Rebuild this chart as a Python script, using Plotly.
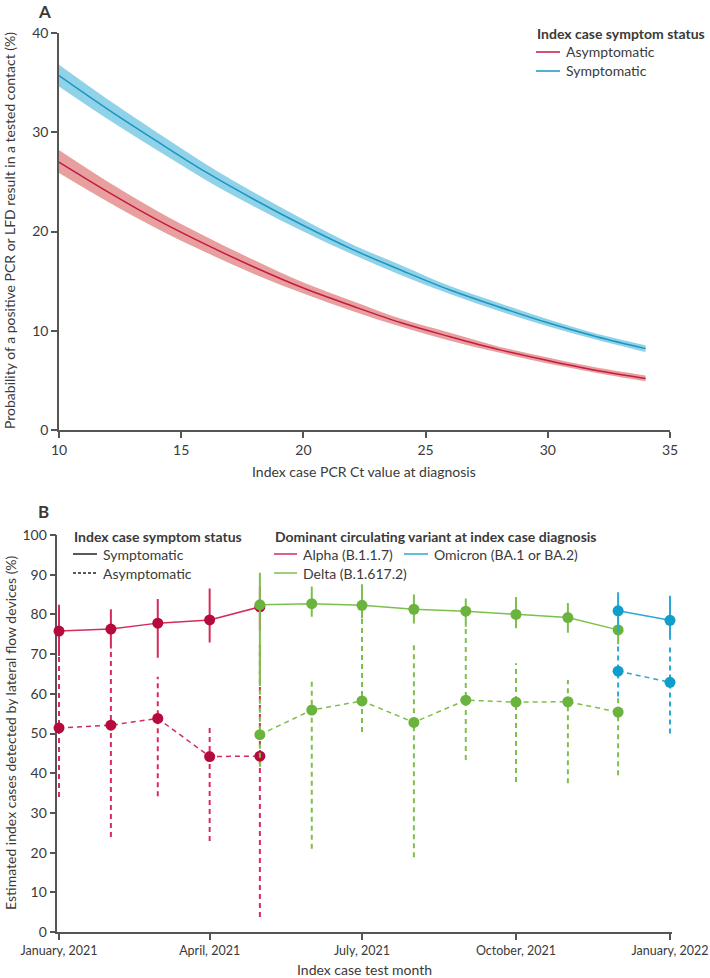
import plotly.graph_objects as go

# ---------------- Panel A data ----------------
ct_values = [10, 12, 14, 16, 18, 20, 22, 24, 26, 28, 30, 32, 34]
asym_prob = [27.0, 24.0, 21.2, 18.7, 16.4, 14.3, 12.5, 10.8, 9.4, 8.1, 7.0, 6.0, 5.2]
asym_lo = [25.9, 23.0, 20.3, 17.9, 15.7, 13.75, 12.0, 10.4, 9.0, 7.8, 6.7, 5.75, 4.9]
asym_hi = [28.2, 25.0, 22.1, 19.5, 17.1, 14.85, 13.0, 11.2, 9.8, 8.4, 7.3, 6.3, 5.5]
sym_prob = [35.7, 32.3, 29.1, 26.0, 23.2, 20.6, 18.2, 16.1, 14.1, 12.4, 10.8, 9.4, 8.2]
sym_lo = [34.6, 31.3, 28.2, 25.2, 22.5, 20.0, 17.7, 15.6, 13.7, 12.0, 10.45, 9.1, 7.85]
sym_hi = [36.8, 33.3, 30.0, 26.8, 23.9, 21.2, 18.7, 16.6, 14.5, 12.8, 11.15, 9.7, 8.55]
a_xticks = [10, 15, 20, 25, 30, 35]
a_yticks = [0, 10, 20, 30, 40]

# ---------------- Panel B data ----------------
alpha_months = ["2021-01-01", "2021-02-01", "2021-03-01", "2021-04-01", "2021-05-01"]
alpha_sym = [75.8, 76.3, 77.8, 78.6, 81.9]
alpha_sym_lo = [69.5, 71.4, 69.1, 72.9, 76.0]
alpha_sym_hi = [82.4, 81.3, 83.9, 86.5, 87.0]
alpha_asym = [51.4, 52.1, 53.8, 44.2, 44.3]
alpha_asym_lo = [34.0, 23.9, 34.2, 22.9, 3.8]
alpha_asym_hi = [70.0, 71.4, 64.3, 52.4, 72.3]

delta_months = ["2021-05-01", "2021-06-01", "2021-07-01", "2021-08-01",
                "2021-09-01", "2021-10-01", "2021-11-01", "2021-12-01"]
delta_sym = [82.4, 82.7, 82.3, 81.3, 80.8, 80.0, 79.2, 76.1]
delta_sym_lo = [62.0, 79.4, 79.0, 77.7, 76.9, 76.5, 75.4, 72.5]
delta_sym_hi = [90.5, 87.0, 87.6, 85.0, 84.0, 84.4, 82.9, 79.5]
delta_asym = [49.7, 55.9, 58.2, 52.8, 58.4, 57.9, 58.0, 55.4]
delta_asym_lo = [41.6, 21.0, 50.4, 18.8, 43.3, 37.8, 37.5, 39.5]
delta_asym_hi = [72.0, 63.4, 79.0, 72.3, 76.5, 67.7, 63.5, 60.0]

omicron_months = ["2021-12-01", "2022-01-01"]
omicron_sym = [80.9, 78.5]
omicron_sym_lo = [75.5, 73.6]
omicron_sym_hi = [85.6, 84.7]
omicron_asym = [65.7, 62.9]
omicron_asym_lo = [59.3, 50.0]
omicron_asym_hi = [72.7, 71.7]

b_xtickvals = ["2021-01-01", "2021-04-01", "2021-07-01", "2021-10-01", "2022-01-01"]
b_xticktext = ["January, 2021", "April, 2021", "July, 2021", "October, 2021", "January, 2022"]
b_yticks = [0, 10, 20, 30, 40, 50, 60, 70, 80, 90, 100]

# ---------------- styling ----------------
FONT = "Lato"
TXT = "#3a3a3a"
AXC = "#555555"
W, H = 710, 978

RED_LINE, RED_BAND = "#c41a44", "#e8a09e"
BLUE_LINE, BLUE_BAND = "#1c95c2", "#90d2e8"
ALPHA_M, ALPHA_L = "#b50a3c", "#d62b5b"
DELTA_M, DELTA_L = "#6ab33c", "#7cc04c"
OMI_M, OMI_L = "#0f9dc9", "#2aa9d4"

DASH = "5px,4px"

fig = go.Figure()

# ---- Panel A bands + lines ----
for lo, hi, mid, band, line in [(asym_lo, asym_hi, asym_prob, RED_BAND, RED_LINE),
                                (sym_lo, sym_hi, sym_prob, BLUE_BAND, BLUE_LINE)]:
    fig.add_trace(go.Scatter(x=ct_values, y=lo, mode="lines", line=dict(width=0, shape="spline"),
                             showlegend=False, hoverinfo="skip", xaxis="x", yaxis="y"))
    fig.add_trace(go.Scatter(x=ct_values, y=hi, mode="lines", line=dict(width=0, shape="spline"),
                             fill="tonexty", fillcolor=band, showlegend=False, hoverinfo="skip",
                             xaxis="x", yaxis="y"))
    fig.add_trace(go.Scatter(x=ct_values, y=mid, mode="lines", line=dict(width=1.5, color=line, shape="spline"),
                             showlegend=False, xaxis="x", yaxis="y"))


def err_xy(months, lo, hi):
    xs, ys = [], []
    for m, l, h in zip(months, lo, hi):
        xs += [m, m, None]
        ys += [l, h, None]
    return xs, ys


def add_variant(months, sym, slo, shi, asym, alo, ahi, mcol, lcol):
    ex, ey = err_xy(months, alo, ahi)
    fig.add_trace(go.Scatter(x=ex, y=ey, mode="lines", line=dict(color=lcol, width=2, dash=DASH),
                             showlegend=False, hoverinfo="skip", xaxis="x2", yaxis="y2", cliponaxis=False))
    ex, ey = err_xy(months, slo, shi)
    fig.add_trace(go.Scatter(x=ex, y=ey, mode="lines", line=dict(color=lcol, width=2),
                             showlegend=False, hoverinfo="skip", xaxis="x2", yaxis="y2", cliponaxis=False))
    fig.add_trace(go.Scatter(x=months, y=asym, mode="lines+markers",
                             line=dict(color=lcol, width=1.5, dash=DASH),
                             marker=dict(color=mcol, size=11, line=dict(width=0)),
                             showlegend=False, xaxis="x2", yaxis="y2", cliponaxis=False))
    fig.add_trace(go.Scatter(x=months, y=sym, mode="lines+markers",
                             line=dict(color=lcol, width=1.5),
                             marker=dict(color=mcol, size=11, line=dict(width=0)),
                             showlegend=False, xaxis="x2", yaxis="y2", cliponaxis=False))


add_variant(alpha_months, alpha_sym, alpha_sym_lo, alpha_sym_hi,
            alpha_asym, alpha_asym_lo, alpha_asym_hi, ALPHA_M, ALPHA_L)
add_variant(delta_months, delta_sym, delta_sym_lo, delta_sym_hi,
            delta_asym, delta_asym_lo, delta_asym_hi, DELTA_M, DELTA_L)
add_variant(omicron_months, omicron_sym, omicron_sym_lo, omicron_sym_hi,
            omicron_asym, omicron_asym_lo, omicron_asym_hi, OMI_M, OMI_L)


def px(x):
    return x / W


def py(y):
    return 1 - y / H


def axis_style(size=14, layer="above traces"):
    return dict(showline=True, linecolor=AXC, linewidth=1.5, ticks="outside", ticklen=6,
                tickcolor=AXC, tickwidth=1.5, showgrid=False, zeroline=False, automargin=False,
                ticklabeloverflow="allow", layer=layer,
                tickfont=dict(family=FONT, size=size, color=TXT))


# panel B x axis padded by one day each side (1.67 px) so edge error bars are not clipped
DAYPX = 611 / 365.0

fig.update_layout(
    template="none",
    width=W, height=H,
    margin=dict(l=0, r=0, t=0, b=0, pad=0, autoexpand=False),
    paper_bgcolor="white", plot_bgcolor="white",
    font=dict(family=FONT, size=14, color=TXT),
    showlegend=False,
    xaxis=dict(domain=[px(59), px(670)], range=[10, 35], tickvals=a_xticks, anchor="y", **axis_style()),
    yaxis=dict(domain=[py(430), py(33)], range=[0, 40], tickvals=a_yticks, anchor="x", **axis_style()),
    xaxis2=dict(domain=[px(59 - DAYPX), px(670 + DAYPX)], type="date",
                range=["2020-12-31", "2022-01-02"],
                tickvals=b_xtickvals, ticktext=b_xticktext, anchor="y2", **axis_style(12.5)),
    yaxis2=dict(domain=[py(932), py(535)], range=[0, 100], tickvals=b_yticks, anchor="x2",
                **axis_style(14, "below traces")),
)

ann = []
shapes = []


def text(x, y, s, size=14, anchor="left", angle=0):
    ann.append(dict(x=px(x), y=py(y), xref="paper", yref="paper", text=s, showarrow=False,
                    xanchor=anchor, yanchor="middle", textangle=angle,
                    font=dict(family=FONT, size=size, color=TXT)))


def legline(x0, x1, y, color, dash="solid"):
    shapes.append(dict(type="line", xref="paper", yref="paper", x0=px(x0), x1=px(x1),
                       y0=py(y), y1=py(y), line=dict(color=color, width=1.5, dash=dash)))


# Panel labels
text(36, 11, "<b>A</b>", size=17)
text(36, 511, "<b>B</b>", size=17)

# Axis titles
text(364, 471, "Index case PCR Ct value at diagnosis", anchor="center")
text(364, 969, "Index case test month", anchor="center")
text(10, 231, "Probability of a positive PCR or LFD result in a tested contact (%)", anchor="center", angle=-90)
text(10, 733, "Estimated index cases detected by lateral flow devices (%)", anchor="center", angle=-90)

# Panel A legend
text(535, 33, "<b>Index case symptom status</b>")
legline(536, 560, 52, RED_LINE)
text(564, 52, "Asymptomatic")
legline(536, 560, 71, BLUE_LINE)
text(564, 71, "Symptomatic")

# Panel B legends
text(72, 536, "<b>Index case symptom status</b>")
legline(73, 97, 554, "#222222")
text(101, 554, "Symptomatic")
legline(73, 97, 573, "#222222", dash="3px,2px")
text(101, 573, "Asymptomatic")

text(273, 536, "<b>Dominant circulating variant at index case diagnosis</b>")
legline(274, 297, 554, ALPHA_L)
text(301, 554, "Alpha (B.1.1.7)")
legline(274, 297, 573, DELTA_L)
text(301, 573, "Delta (B.1.617.2)")
legline(404, 428, 554, OMI_L)
text(432, 554, "Omicron (BA.1 or BA.2)")

fig.update_layout(annotations=ann, shapes=shapes)

fig.write_html(
    "out.html",
    config={"displayModeBar": False},
    post_script="document.body.style.margin='0';document.body.style.padding='0';"
                "document.body.style.overflow='hidden';",
)
